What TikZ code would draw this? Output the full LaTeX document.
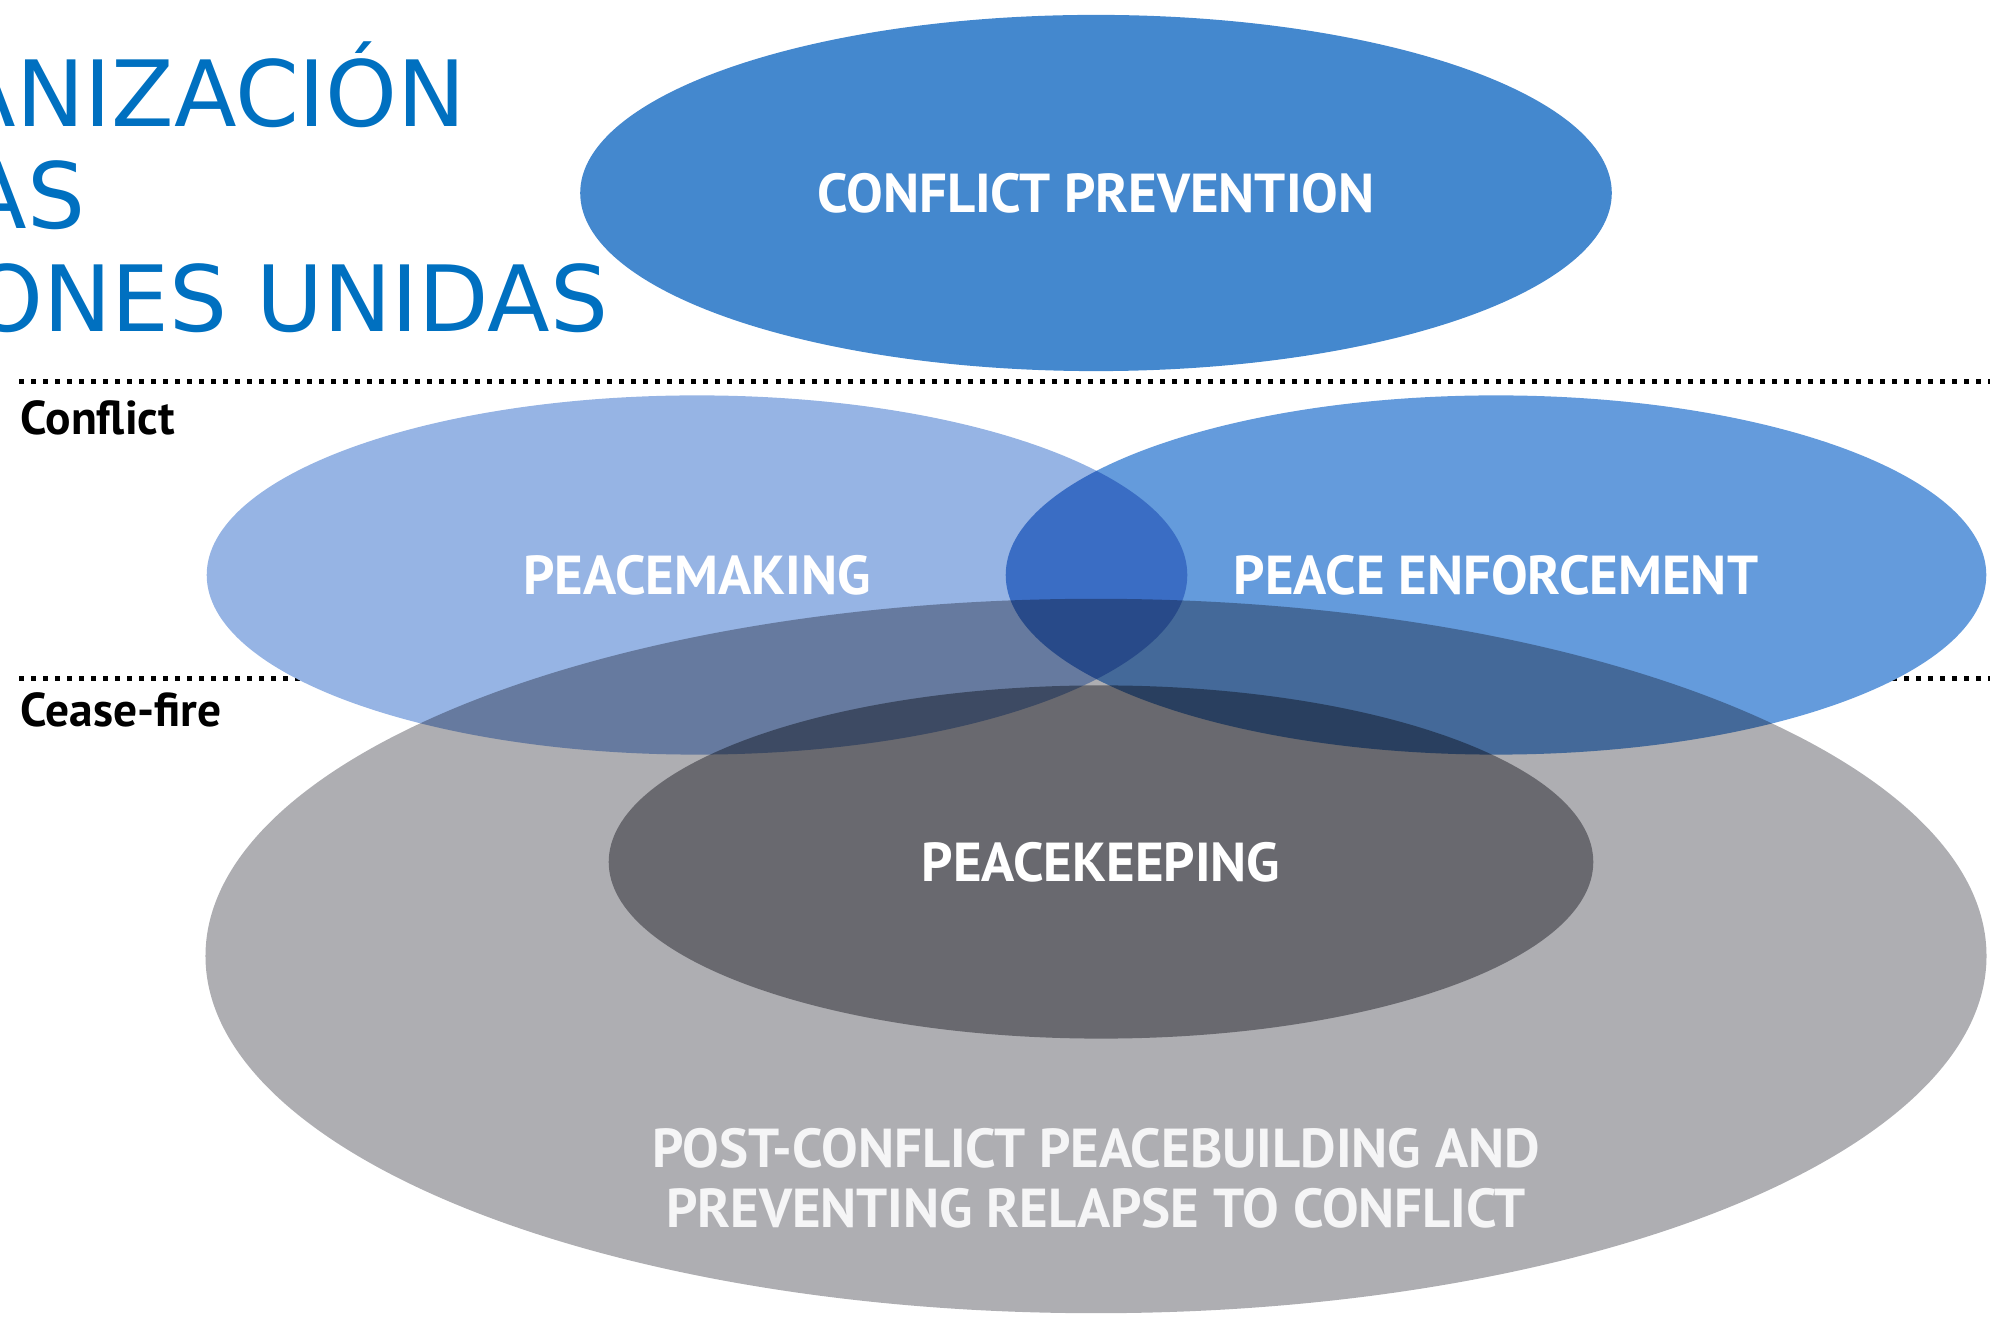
\documentclass[tikz,border=0pt]{standalone}
\usepackage{fontspec}
\setmainfont{PT Sans}
\newfontfamily\titlefont{DejaVu Sans}
\usetikzlibrary{shapes.geometric}

\definecolor{unblue}{RGB}{0,112,192}
\definecolor{preventblue}{RGB}{68,136,206}
\definecolor{makingblue}{RGB}{150,180,228}
\definecolor{enforceblue}{RGB}{100,155,220}
\definecolor{buildgrey}{RGB}{174,174,178}
\definecolor{keepgrey}{RGB}{154,154,160}

\begin{document}
\begin{tikzpicture}[
    x=0.01cm, y=-0.01cm,
    zone/.style={ellipse, inner sep=0pt, draw=none, fill=#1},
    zonetext/.style={text=white, align=center, inner sep=0pt,
        font=\bfseries\fontsize{15.6}{17}\selectfont},
    phase/.style={anchor=base west, inner sep=0pt,
        font=\bfseries\fontsize{13.5}{15}\selectfont},
    phaseline/.style={line width=0.05cm, dash pattern=on 0.05cm off 0.07cm},
    titleline/.style={anchor=base east, inner sep=0pt, text=unblue,
        font=\titlefont\fontsize{26}{30}\selectfont}
]
\useasboundingbox (0,0) rectangle (1990,1319);
\clip (0,0) rectangle (1990,1319);

% Title (cut at the left edge)
\node[titleline] (title1) at (467,127) {ANIZACIÓN};
\node[titleline] (title2) at (86,229) {AS};
\node[titleline] (title3) at (609,332) {ONES UNIDAS};

% Phase lines
\draw[phaseline] (19,382) -- (1990,382);
\draw[phaseline] (19,679) -- (1990,679);
\node[phase] (conflict) at (20,435) {Conflict};
\node[phase] (ceasefire) at (20,727) {Cease-fire};

% Overlapping areas
\begin{scope}[blend group=multiply]
\node[zone=buildgrey, minimum width=17.8cm, minimum height=7.14cm] (building) at (1096,956) {};
\node[zone=keepgrey, minimum width=9.84cm, minimum height=3.53cm] (keeping) at (1101,862) {};
\node[zone=makingblue, minimum width=9.8cm, minimum height=3.59cm] (making) at (697,575) {};
\node[zone=enforceblue, minimum width=9.8cm, minimum height=3.59cm] (enforcement) at (1496,575) {};
\node[zone=preventblue, minimum width=10.31cm, minimum height=3.56cm] (prevention) at (1096,193) {};
\end{scope}

% Labels
\node[zonetext] (preventiontext) at (prevention) {CONFLICT PREVENTION};
\node[zonetext] (makingtext) at (making) {PEACEMAKING};
\node[zonetext] (enforcementtext) at (enforcement) {PEACE ENFORCEMENT};
\node[zonetext] (keepingtext) at (keeping) {PEACEKEEPING};
\node[zonetext, text=white!88!buildgrey] (buildingtext) at (1096,1178)
    {POST-CONFLICT PEACEBUILDING AND\\PREVENTING RELAPSE TO CONFLICT};

\end{tikzpicture}
\end{document}
